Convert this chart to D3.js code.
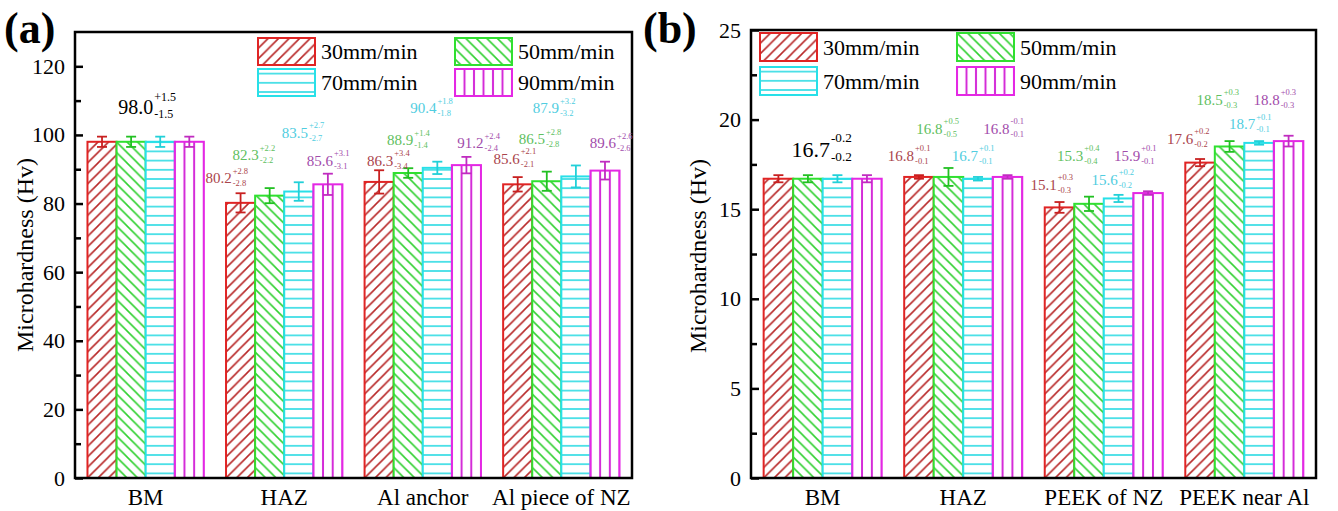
<!DOCTYPE html>
<html>
<head>
<meta charset="utf-8">
<script src="https://cdn.jsdelivr.net/npm/d3@7"></script>
<style>
body { margin: 0; background: #fff; }
svg { font-family: "Liberation Serif", "Times New Roman", serif; }
</style>
</head>
<body>
<script>
// legend / series
var speeds = ["30mm/min", "50mm/min", "70mm/min", "90mm/min"];

// panel (a) - Al side
var catsA = ["BM", "HAZ", "Al anchor", "Al piece of NZ"];
var hardA_30 = [98.0, 80.2, 86.3, 85.6];
var hardA_50 = [98.0, 82.3, 88.9, 86.5];
var hardA_70 = [98.0, 83.5, 90.4, 87.9];
var hardA_90 = [98.0, 85.6, 91.2, 89.6];
var errA_30 = [1.5, 2.8, 3.4, 2.1];
var errA_50 = [1.5, 2.2, 1.4, 2.8];
var errA_70 = [1.5, 2.7, 1.8, 3.2];
var errA_90 = [1.5, 3.1, 2.4, 2.6];
var ticksA = [0, 20, 40, 60, 80, 100, 120];

// panel (b) - PEEK side
var catsB = ["BM", "HAZ", "PEEK of NZ", "PEEK near Al"];
var hardB_30 = [16.7, 16.8, 15.1, 17.6];
var hardB_50 = [16.7, 16.8, 15.3, 18.5];
var hardB_70 = [16.7, 16.7, 15.6, 18.7];
var hardB_90 = [16.7, 16.8, 15.9, 18.8];
var errB_30 = [0.2, 0.1, 0.3, 0.2];
var errB_50 = [0.2, 0.5, 0.4, 0.3];
var errB_70 = [0.2, 0.1, 0.2, 0.1];
var errB_90 = [0.2, 0.1, 0.1, 0.3];
var ticksB = [0, 5, 10, 15, 20, 25];

// where the value labels sit: [series (-1 = whole group), category, dx from bar centre, y in data units, sign of upper err]
var labelsA = [
  [-1, 0, -10, 108.1, "+"],
  [0, 1, -22, 87.4, "+"], [1, 1, -24, 94.1, "+"], [2, 1, -4, 100.6, "+"], [3, 1, -8, 92.4, "+"],
  [0, 2, 1, 92.4, "+"], [1, 2, -8, 98.5, "+"], [2, 2, -14, 107.8, "+"], [3, 2, 4, 97.6, "+"],
  [0, 3, -11, 93.2, "+"], [1, 3, -15, 98.8, "+"], [2, 3, -30, 107.8, "+"], [3, 3, -2, 97.6, "+"]
];
var labelsB = [
  [-1, 0, -12, 18.36, "-"],
  [0, 1, -18, 17.97, "+"], [1, 1, -19, 19.5, "+"], [2, 1, -13, 17.97, "+"], [3, 1, -11, 19.5, "-"],
  [0, 2, -16, 16.37, "+"], [1, 2, -19, 17.97, "+"], [2, 2, -14, 16.65, "+"], [3, 2, -21, 17.97, "+"],
  [0, 3, -20, 18.92, "+"], [1, 3, -20, 21.1, "+"], [2, 3, -17, 19.75, "+"], [3, 3, -22, 21.1, "+"]
];

var svg = d3.select("body").append("svg").attr("width", 1338).attr("height", 511);
var defs = svg.append("defs");

var barStroke = ["#e02424", "#30e030", "#28e0e8", "#e428e4"];
var hatchColor = ["#b82828", "#30d030", "#30dce4", "#d42cd8"];
var errColor = ["#c82020", "#22c022", "#22d0d8", "#c02cc0"];
var labelColor = ["#aa444c", "#60c060", "#50cde0", "#a24cab"];
var kinds = ["fwd", "bwd", "horiz", "vert"];

var pid = 0;
// vstep = spacing of the vertical lines for the 90mm/min fill
function pattern(kind, color, bx, by, vstep) {
  var id = "hp" + (pid++);
  var p = defs.append("pattern").attr("id", id).attr("patternUnits", "userSpaceOnUse")
    .attr("x", bx).attr("y", by);
  var s = 10.5, d;
  if (kind == "fwd") {
    p.attr("width", s).attr("height", s);
    d = "M-2,2L2,-2M0," + s + "L" + s + ",0M" + (s - 2) + "," + (s + 2) + "L" + (s + 2) + "," + (s - 2);
  } else if (kind == "bwd") {
    p.attr("width", s).attr("height", s);
    d = "M-2," + (s - 2) + "L2," + (s + 2) + "M0,0L" + s + "," + s + "M" + (s - 2) + ",-2L" + (s + 2) + ",2";
  } else if (kind == "horiz") {
    p.attr("width", s).attr("height", 9.2);
    d = "M0,4.6L" + s + ",4.6";
  } else {
    p.attr("width", vstep).attr("height", s);
    d = "M0,0L0," + s + "M" + vstep + ",0L" + vstep + "," + s;
  }
  p.append("path").attr("d", d).attr("stroke", color)
    .attr("stroke-width", kind == "vert" ? 2 : 1.6).attr("fill", "none");
  return "url(#" + id + ")";
}

function panel(o) {
  var g = svg.append("g");
  var y = d3.scaleLinear().domain([0, o.yMax]).range([o.bottom, o.top]);
  var x = d3.scaleBand().domain(o.cats).range([o.left, o.right]).paddingInner(0.16).paddingOuter(0.09);
  var xs = d3.scaleBand().domain(d3.range(o.series.length)).range([0, x.bandwidth()]);
  var bw = xs.bandwidth();

  o.series.forEach(function (vals, si) {
    vals.forEach(function (v, ci) {
      var bx = x(o.cats[ci]) + xs(si);
      g.append("rect").attr("x", bx).attr("y", y(v)).attr("width", bw).attr("height", y(0) - y(v))
        .attr("fill", "#fff");
      g.append("rect").attr("x", bx).attr("y", y(v)).attr("width", bw).attr("height", y(0) - y(v))
        .attr("fill", pattern(kinds[si], hatchColor[si], bx, y(0), bw / 3))
        .attr("stroke", barStroke[si]).attr("stroke-width", 2);
    });
  });

  // error bars
  o.series.forEach(function (vals, si) {
    vals.forEach(function (v, ci) {
      var e = o.errs[si][ci];
      var cx = x(o.cats[ci]) + xs(si) + bw / 2;
      var eg = g.append("g").attr("stroke", errColor[si]).attr("stroke-width", 1.8);
      eg.append("line").attr("x1", cx).attr("x2", cx).attr("y1", y(v + e)).attr("y2", y(v - e));
      [v + e, v - e].forEach(function (w) {
        eg.append("line").attr("x1", cx - 5).attr("x2", cx + 5).attr("y1", y(w)).attr("y2", y(w));
      });
    });
  });

  // frame
  g.append("rect").attr("x", o.left).attr("y", o.top).attr("width", o.right - o.left)
    .attr("height", o.bottom - o.top).attr("fill", "none").attr("stroke", "#000").attr("stroke-width", 2.5);

  var ax = g.append("g").attr("transform", "translate(" + o.left + ",0)")
    .call(d3.axisLeft(y).tickValues(o.ticks).tickSize(-8).tickPadding(10).tickFormat(d3.format("d")));
  ax.select(".domain").remove();
  ax.selectAll("line").attr("stroke-width", 2.5);
  ax.selectAll("text").attr("font-size", 22).attr("font-family", "Liberation Serif").attr("fill", "#000");
  var minor = o.ticks.slice(0, -1).map(function (t, i) { return (t + o.ticks[i + 1]) / 2; });
  if (o.ticks[o.ticks.length - 1] < o.yMax) minor.push(o.ticks[o.ticks.length - 1] + (o.ticks[1] - o.ticks[0]) / 2);
  var mx = g.append("g").attr("transform", "translate(" + o.left + ",0)")
    .call(d3.axisLeft(y).tickValues(minor.filter(function (m) { return m < o.yMax; })).tickSize(-6).tickFormat(""));
  mx.select(".domain").remove();
  mx.selectAll("line").attr("stroke-width", 2.5);

  // category labels
  g.selectAll(".cat").data(o.cats).enter().append("text")
    .attr("x", function (d) { return x(d) + x.bandwidth() / 2; })
    .attr("y", 505).attr("text-anchor", "middle").attr("font-size", 23).text(function (d) { return d; });

  // y title
  g.append("text").attr("transform", "translate(" + o.titleX + "," + o.titleY + ") rotate(-90)")
    .attr("text-anchor", "middle").attr("font-size", 24).text("Microhardness (Hv)");

  // panel tag
  g.append("text").attr("x", o.tagX).attr("y", 43).attr("font-size", 44).attr("font-weight", "bold").text(o.tag);

  // legend
  speeds.forEach(function (s, i) {
    var lx = o.legX + (i % 2) * 197, ly = o.legY + Math.floor(i / 2) * o.legRow;
    g.append("rect").attr("x", lx).attr("y", ly).attr("width", 57).attr("height", o.legH).attr("fill", "#fff");
    g.append("rect").attr("x", lx).attr("y", ly).attr("width", 57).attr("height", o.legH)
      .attr("fill", pattern(kinds[i], hatchColor[i], lx, ly, 57 / 6))
      .attr("stroke", barStroke[i]).attr("stroke-width", 2);
    g.append("text").attr("x", lx + 63).attr("y", ly + o.legH / 2).attr("dy", "0.35em")
      .attr("font-size", 22).text(s);
  });

  // value labels with +/- err
  o.labels.forEach(function (L) {
    var si = L[0] < 0 ? 0 : L[0], ci = L[1];
    var v = o.series[si][ci], e = o.errs[si][ci];
    var cx = L[0] < 0 ? x(o.cats[ci]) + x.bandwidth() / 2 + L[2] : x(o.cats[ci]) + xs(si) + bw / 2 + L[2];
    var cy = y(L[3]);
    var big = L[0] < 0;
    var fs = big ? o.bigFont : 15, ss = big ? o.bigFont * 0.6 : 8.5;
    var col = big ? "#000" : labelColor[si];
    var t = g.append("text").attr("x", cx).attr("y", cy).attr("dy", "0.35em").attr("text-anchor", "middle")
      .attr("font-size", fs).attr("fill", col).text(v.toFixed(1));
    var w = t.node().getComputedTextLength();
    g.append("text").attr("x", cx + w / 2 + 1).attr("y", cy - fs * 0.3).attr("font-size", ss).attr("fill", col)
      .text(L[4] + e.toFixed(1));
    g.append("text").attr("x", cx + w / 2 + 1).attr("y", cy + fs * 0.55).attr("font-size", ss).attr("fill", col)
      .text("-" + e.toFixed(1));
  });
}

panel({
  cats: catsA, series: [hardA_30, hardA_50, hardA_70, hardA_90], errs: [errA_30, errA_50, errA_70, errA_90],
  ticks: ticksA, yMax: 130, left: 75, right: 632, top: 32, bottom: 478,
  titleX: 33, titleY: 255, tag: "(a)", tagX: 4, legX: 258, legY: 38, legRow: 31, legH: 27,
  labels: labelsA, bigFont: 20
});
panel({
  cats: catsB, series: [hardB_30, hardB_50, hardB_70, hardB_90], errs: [errB_30, errB_50, errB_70, errB_90],
  ticks: ticksB, yMax: 25, left: 751, right: 1316, top: 30, bottom: 478,
  titleX: 706, titleY: 256, tag: "(b)", tagX: 643, legX: 760, legY: 33, legRow: 34, legH: 28,
  labels: labelsB, bigFont: 22
});
</script>
</body>
</html>
